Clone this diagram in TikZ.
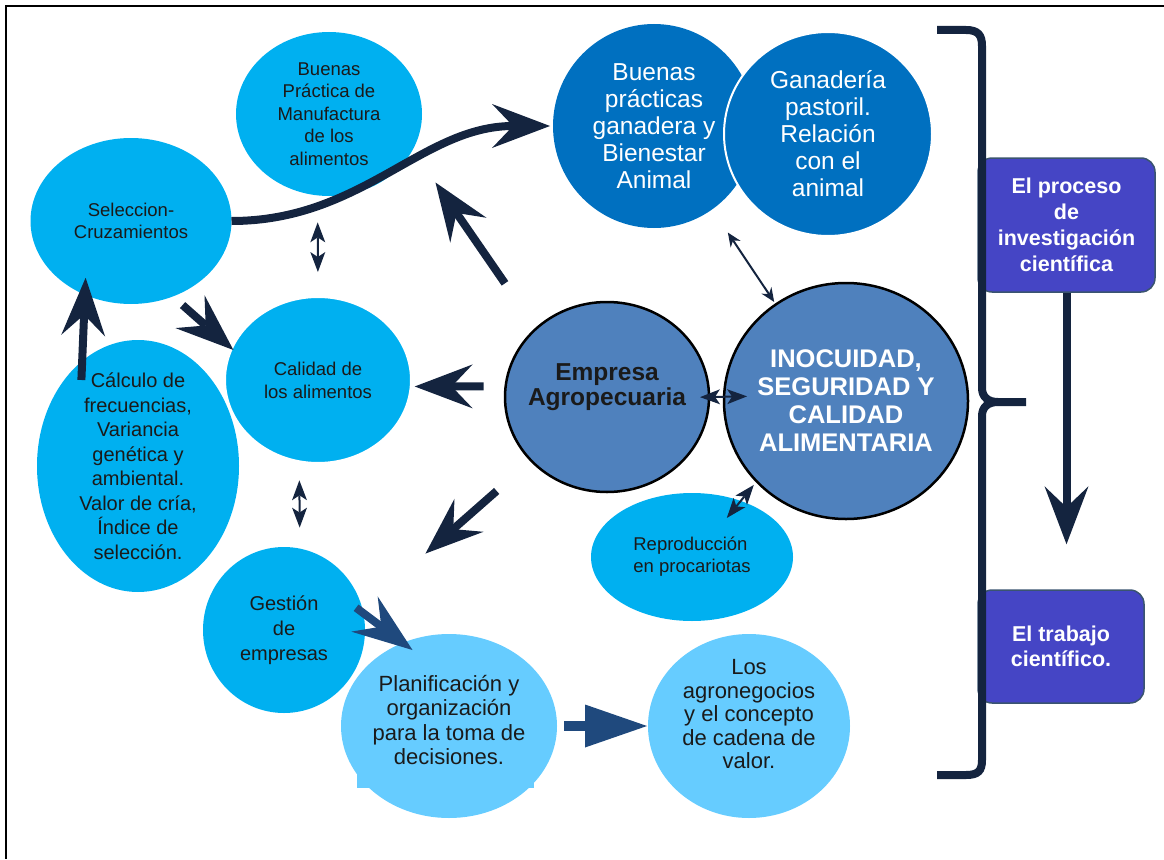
\documentclass[tikz,border=0pt]{standalone}
\usepackage{fontspec}
\setmainfont{Liberation Sans}
\usetikzlibrary{shapes.geometric}
\usetikzlibrary{arrows.meta}

\definecolor{cyanfill}{RGB}{0,176,240}
\definecolor{palefill}{RGB}{102,204,255}
\definecolor{deepfill}{RGB}{0,112,192}
\definecolor{steelfill}{RGB}{79,129,189}
\definecolor{violetfill}{RGB}{69,69,197}
\definecolor{violetedge}{RGB}{58,84,112}
\definecolor{navy}{RGB}{20,36,63}
\definecolor{arrowblue}{RGB}{31,73,125}
\definecolor{inkdark}{RGB}{26,26,26}
\newcommand{\fsz}[2]{\fontsize{#1}{#2}\selectfont}

\begin{document}
\begin{tikzpicture}[x=1pt,y=-1pt,
    disc/.style={ellipse,inner sep=-40pt,outer sep=0pt,align=center,text=inkdark},
    cyan node/.style={disc,fill=cyanfill},
    pale node/.style={disc,fill=palefill,font=\fsz{22}{24.5}},
    deep node/.style={disc,fill=deepfill,text=white,font=\fsz{24.5}{27}},
    steel node/.style={disc,fill=steelfill,draw=black,line width=2.5pt},
    violet node/.style={rectangle,rounded corners=14pt,inner sep=0pt,fill=violetfill,draw=violetedge,
                        line width=1.5pt,text=white,align=center,font=\bfseries\fsz{21.5}{26}},
    big arrow/.style={draw,color=navy,line width=8pt,-{Stealth[length=58pt,width=44pt,inset=21pt,line width=0pt]}},
    blue arrow/.style={draw,color=arrowblue,line width=8pt,-{Stealth[length=60pt,width=44pt,inset=21pt,line width=0pt]}},
    thin arrow/.style={draw,color=navy,line width=2pt,
                       {Stealth[length=20pt,width=15pt,inset=5pt,line width=0pt]}-{Stealth[length=20pt,width=15pt,inset=5pt,line width=0pt]}}]

    \useasboundingbox (0,0) rectangle (1164,859);
    \draw[line width=2.5pt] (1164,6) -- (6,6) -- (6,859);

    \node[cyan node,minimum width=186pt,minimum height=164pt,font=\fsz{18.5}{22.5}] (bpm) at (329,114) {Buenas\\Práctica de\\Manufactura\\de los\\alimentos};
    \node[cyan node,minimum width=201pt,minimum height=166pt,font=\fsz{18.5}{22}] (sel) at (131,221) {Seleccion-\\Cruzamientos};
    \node[cyan node,minimum width=202pt,minimum height=252pt,font=\fsz{20}{24.5}] (frec) at (138,466) {Cálculo de\\frecuencias,\\Variancia\\genética y\\ambiental.\\Valor de cría,\\Índice de\\selección.};
    \node[cyan node,draw=white,line width=2pt,minimum width=186pt,minimum height=166pt,font=\fsz{18.5}{23}] (cal) at (318,380) {Calidad de\\los alimentos};
    \node[deep node,minimum width=202pt,minimum height=204pt] (bpg) at (654,126) {Buenas\\prácticas\\ganadera y\\Bienestar\\Animal};
    \node[deep node,draw=white,line width=2pt,minimum width=208pt,minimum height=204pt] (gan) at (828,134) {Ganadería\\pastoril.\\Relación\\con el\\animal};
    \node[steel node,font=\bfseries\fsz{24.5}{25},minimum width=204pt,minimum height=190pt] (emp) at (607,397) {Empresa\\Agropecuaria\\\mbox{}};
    \node[steel node,text=white,font=\bfseries\fsz{25.5}{28},minimum width=244pt,minimum height=236pt] (ino) at (846,401) {INOCUIDAD,\\SEGURIDAD Y\\CALIDAD\\ALIMENTARIA};
    \node[cyan node,align=left,font=\fsz{18.5}{22},minimum width=202pt,minimum height=128pt] (rep) at (692,557) {Reproducción\\en procariotas};
    \node[cyan node,font=\fsz{20}{25},minimum width=162pt,minimum height=166pt] (ges) at (284,630) {Gestión\\de\\empresas};
    \fill[palefill] (357,700) rectangle (534,788);
    \node[pale node,minimum width=216pt,minimum height=184pt] (plan) at (449,726) {Planificación y\\organización\\para la toma de\\decisiones.\\[-12pt]\mbox{}};
    \node[pale node,font=\fsz{22}{23.5},minimum width=202pt,minimum height=184pt] (agro) at (749,726) {Los\\agronegocios\\y el concepto\\de cadena de\\valor.\\\mbox{}};
    \node[violet node,minimum width=177pt,minimum height=134pt] (proc) at (1066.5,225) {El proceso\\de\\investigación\\científica};
    \node[violet node,minimum width=166pt,minimum height=113pt,font=\bfseries\fsz{21.5}{25}] (trab) at (1061,646.5) {El trabajo\\científico.};

    \draw[navy,line width=8pt] (937,30) -- (966,30) .. controls (978,30) and (982,35) .. (982,46) -- (982,388)
        .. controls (982,397) and (988,402) .. (998,402) -- (1026,402)
        (998,402) .. controls (988,402) and (982,407) .. (982,416) -- (982,760)
        .. controls (982,771) and (978,775) .. (966,775) -- (937,775);

    \path
    (sel.east) edge [big arrow,out=0,in=180,shorten >=3pt] (bpg.west)
    (emp.136) edge [big arrow,shorten <=55pt,shorten >=40pt] (bpm.337)
    (sel.299) edge [big arrow,shorten <=13pt,shorten >=-2pt] (cal.160)
    (frec.118) edge [big arrow,shorten <=-19pt,shorten >=-17pt] (sel.238)
    (emp.174) edge [big arrow,shorten <=22pt,shorten >=4pt] (cal.356)
    (emp.220) edge [big arrow,shorten <=46pt,shorten >=84pt] (ges.15)
    (proc.south) edge [big arrow,shorten >=45pt] (proc.south |- trab.north);

    \path
    (ges.12) edge [blue arrow,shorten <=-9pt,shorten >=-12pt] (plan.119)
    (plan.east) edge [blue arrow,line width=10pt,shorten <=7pt,shorten >=1pt,-{Triangle[length=62pt,width=43pt,line width=0pt]}] (agro.west);

    \path
    (bpm.262) edge [thin arrow,shorten <=27pt,shorten >=25pt] (cal.north)
    (cal.257) edge [thin arrow,shorten <=19pt,shorten >=21pt] (ges.79)
    (emp.east) edge [thin arrow,shorten <=-9pt,shorten >=-23pt] (ino.178)
    (rep.49) edge [thin arrow,shorten <=-22pt,shorten >=4.5pt] (ino.222)
    (bpg.305) edge [thin arrow,shorten <=28pt,shorten >=3pt,{Stealth[length=14pt,width=12pt,line width=0pt]}-{Stealth[length=14pt,width=12pt,line width=0pt]}] (ino.126);
\end{tikzpicture}
\end{document}
